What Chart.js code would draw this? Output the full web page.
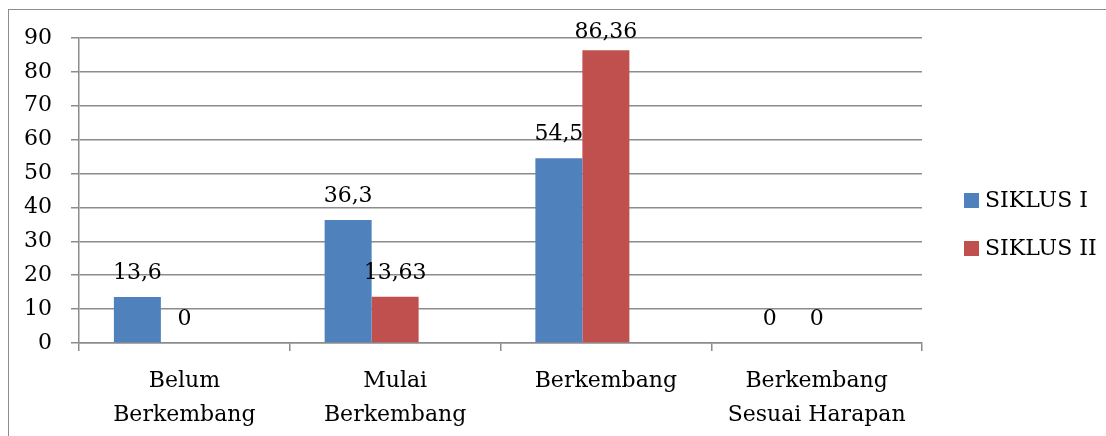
<!DOCTYPE html>
<html>
<head>
<meta charset="utf-8">
<script src="https://cdn.jsdelivr.net/npm/chart.js@4"></script>
<style>
  html, body { margin: 0; padding: 0; background: #fff; overflow: hidden; }
  #frame { position: absolute; left: 8px; top: 9px; width: 1200px; height: 500px; border: 1px solid #8c8c8c; box-sizing: border-box; }
  #wrap { position: absolute; left: 0; top: 0; width: 1106px; height: 436px; }
</style>
</head>
<body>
<div id="frame"></div>
<div id="wrap"><canvas id="chart"></canvas></div>
<script>
const categories = [['Belum', 'Berkembang'], ['Mulai', 'Berkembang'], ['Berkembang'], ['Berkembang', 'Sesuai Harapan']];
const seriesNames = ['SIKLUS I', 'SIKLUS II'];
const siklus1 = [13.6, 36.3, 54.5, 0];
const siklus2 = [0, 13.63, 86.36, 0];
// the source chart keeps an empty third series slot, which pushes the bars left of the category centre
const emptySeries = [null, null, null, null];
const colors = ['#4F81BD', '#C0504D'];

const FONT = '"DejaVu Serif", serif';

// value labels above each bar, comma as decimal separator
const valueLabels = {
  id: 'valueLabels',
  afterDatasetsDraw(chart) {
    const ctx = chart.ctx;
    ctx.save();
    ctx.font = '22px ' + FONT;
    ctx.fillStyle = '#000';
    ctx.textAlign = 'center';
    ctx.textBaseline = 'alphabetic';
    chart.data.datasets.forEach((ds, i) => {
      chart.getDatasetMeta(i).data.forEach((bar, j) => {
        if (ds.data[j] === null) return;
        const y = Math.max(bar.y - 18, chart.chartArea.top);
        ctx.fillText(String(ds.data[j]).replace('.', ','), bar.x, y);
      });
    });
    ctx.restore();
  }
};

// legend on the right
const sideLegend = {
  id: 'sideLegend',
  afterDraw(chart) {
    const ctx = chart.ctx;
    ctx.save();
    ctx.font = '22px ' + FONT;
    ctx.textBaseline = 'middle';
    ctx.textAlign = 'left';
    chart.data.datasets.filter(ds => ds.label).forEach((ds, i) => {
      const top = 193 + i * 48;
      ctx.fillStyle = ds.backgroundColor;
      ctx.fillRect(964, top, 15, 15);
      ctx.fillStyle = '#000';
      ctx.fillText(ds.label, 985, top + 8);
    });
    ctx.restore();
  }
};

new Chart(document.getElementById('chart'), {
  type: 'bar',
  data: {
    labels: categories,
    datasets: [
      { label: seriesNames[0], data: siklus1, backgroundColor: colors[0] },
      { label: seriesNames[1], data: siklus2, backgroundColor: colors[1] },
      { label: '', data: emptySeries, backgroundColor: 'rgba(0,0,0,0)' }
    ]
  },
  options: {
    responsive: true,
    maintainAspectRatio: false,
    animation: false,
    layout: { padding: { top: 38, right: 184, left: 0, bottom: 0 } },
    datasets: { bar: { categoryPercentage: 0.669, barPercentage: 1.0 } },
    plugins: {
      legend: { display: false },
      tooltip: { enabled: false }
    },
    scales: {
      x: {
        grid: { offset: true, drawOnChartArea: false, drawTicks: true, tickLength: 8, color: '#8c8c8c', lineWidth: 1.5 },
        border: { color: '#8c8c8c', width: 1.5 },
        ticks: { color: '#000', padding: 13, maxRotation: 0, autoSkip: false, font: { family: FONT, size: 22, lineHeight: 1.55 } },
        afterFit(scale) { scale.height = 93; }
      },
      y: {
        min: 0,
        max: 90,
        ticks: { stepSize: 10, color: '#000', padding: 19, font: { family: FONT, size: 22 } },
        grid: { color: '#8c8c8c', lineWidth: 1.5, tickLength: 8 },
        border: { color: '#8c8c8c', width: 1.5 },
        afterFit(scale) { scale.width = 79; }
      }
    }
  },
  plugins: [valueLabels, sideLegend]
});
</script>
</body>
</html>
